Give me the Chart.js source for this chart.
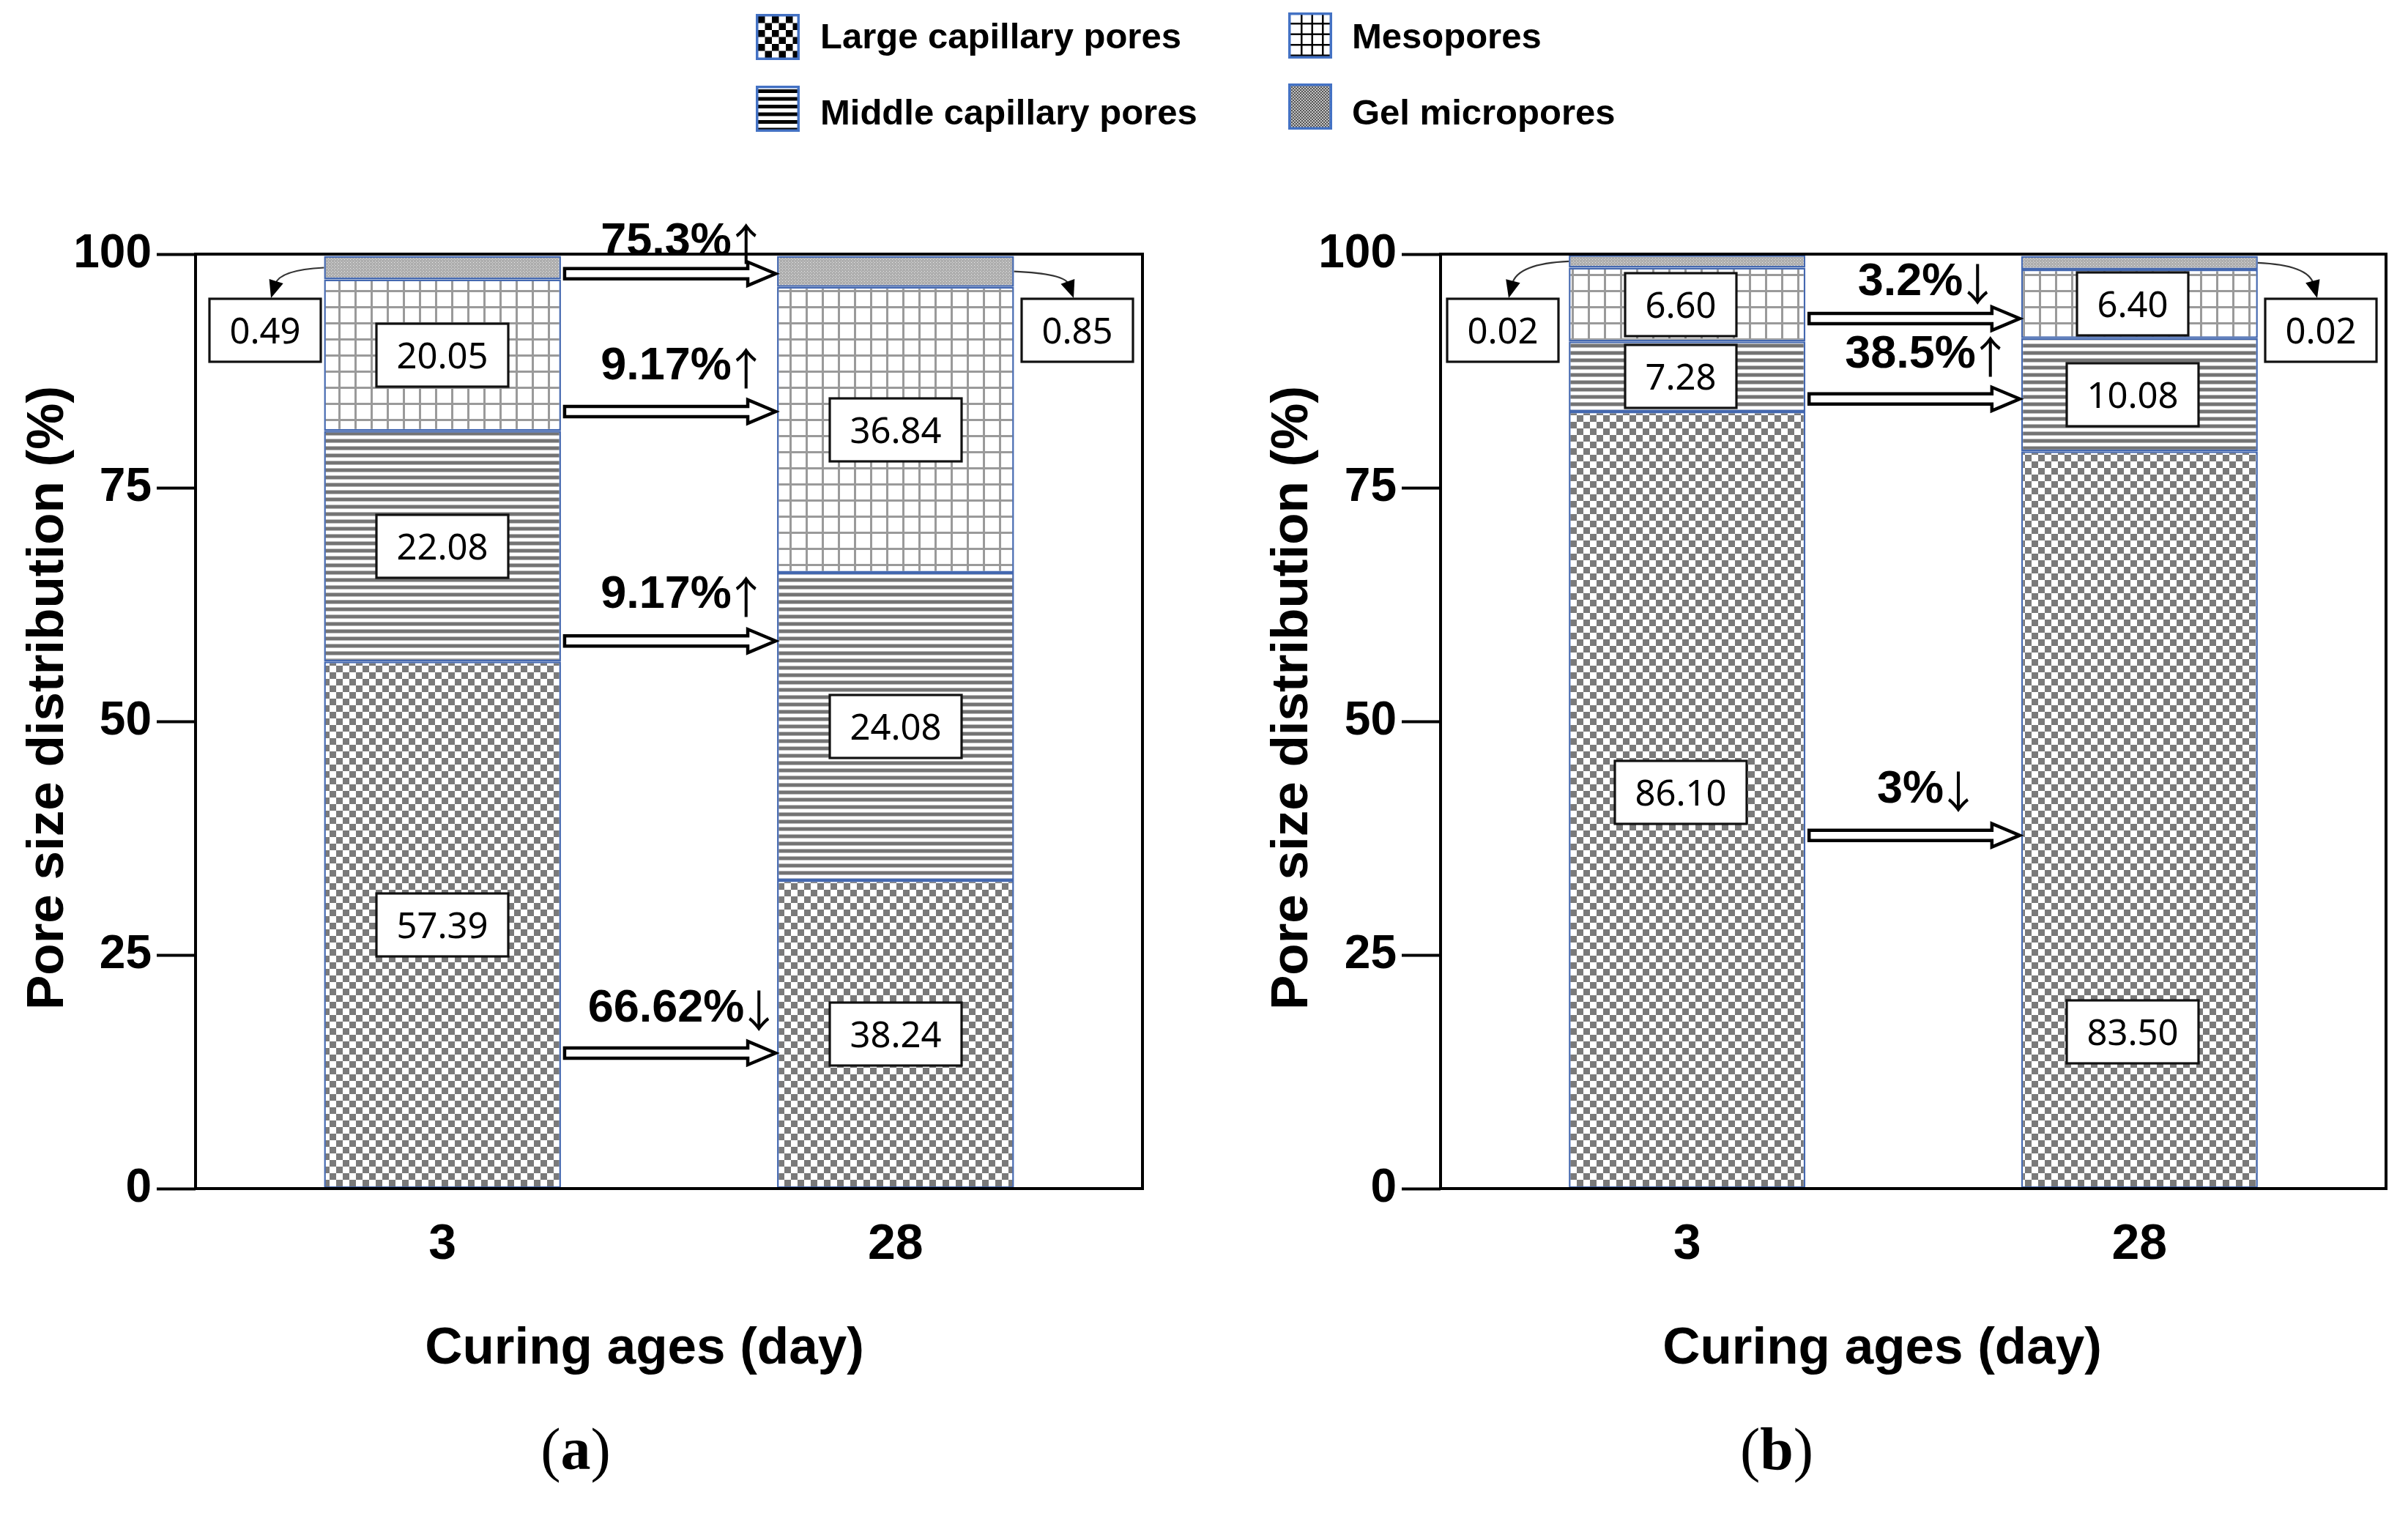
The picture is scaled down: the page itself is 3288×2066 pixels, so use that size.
<!DOCTYPE html>
<html>
<head>
<meta charset="utf-8">
<script src="https://cdn.jsdelivr.net/npm/chart.js@4.4.1/dist/chart.umd.min.js"></script>
<style>
html, body { margin: 0; padding: 0; background: #fff; width: 3288px; height: 2066px; overflow: hidden; position: relative; }
#wa { position: absolute; left: 0; top: 0; width: 1640px; height: 2066px; }
#wb { position: absolute; left: 1640px; top: 0; width: 1648px; height: 2066px; }
.sw { position: absolute; width: 60px; height: 63px; }
.lt { position: absolute; font: bold 49px "Liberation Sans", Arial, sans-serif; line-height: 49px; white-space: nowrap; color: #000; }
</style>
</head>
<body>
<div id="wa"><canvas id="ca"></canvas></div>
<div id="wb"><canvas id="cb"></canvas></div>

<canvas class="sw" id="sw0" width="60" height="63" style="left:1032px;top:19px"></canvas>
<div class="lt" id="lt0" style="left:1120px;top:25px"></div>
<canvas class="sw" id="sw2" width="60" height="63" style="left:1759px;top:17px"></canvas>
<div class="lt" id="lt2" style="left:1846px;top:25px"></div>
<canvas class="sw" id="sw1" width="60" height="63" style="left:1032px;top:117px"></canvas>
<div class="lt" id="lt1" style="left:1120px;top:129px"></div>
<canvas class="sw" id="sw3" width="60" height="63" style="left:1759px;top:114px"></canvas>
<div class="lt" id="lt3" style="left:1846px;top:129px"></div>

<script>
// ---------------- data ----------------
const categories = ['3', '28'];
const seriesNames = ['Large capillary pores', 'Middle capillary pores', 'Mesopores', 'Gel micropores'];
const yTicks = [0, 25, 50, 75, 100];

// panel (a): segment heights as drawn (% of axis), bottom to top
const aLarge  = [56.4, 33.0];
const aMiddle = [24.7, 32.9];
const aMeso   = [16.2, 30.6];
const aGel    = [2.5, 3.3];
// panel (a): printed values
const aLargeText  = ['57.39', '38.24'];
const aMiddleText = ['22.08', '24.08'];
const aMesoText   = ['20.05', '36.84'];
const aGelText    = ['0.49', '0.85'];
const aChange     = ['75.3%', '9.17%', '9.17%', '66.62%'];
const aChangeDir  = ['↑', '↑', '↑', '↓'];

// panel (b): segment heights as drawn (% of axis)
const bLarge  = [83.15, 78.9];
const bMiddle = [7.5, 12.1];
const bMeso   = [7.9, 7.35];
const bGel    = [1.35, 1.45];
// panel (b): printed values
const bLargeText  = ['86.10', '83.50'];
const bMiddleText = ['7.28', '10.08'];
const bMesoText   = ['6.60', '6.40'];
const bGelText    = ['0.02', '0.02'];
const bChange     = ['3.2%', '38.5%', '3%'];
const bChangeDir  = ['↓', '↑', '↓'];

// ---------------- styles / layout ----------------
const FONT = '"Liberation Sans", Arial, sans-serif';
const NUMFONT = '"Noto Sans", "Open Sans", sans-serif';
const ARROWFONT = '"Noto Sans CJK KR", "Noto Sans CJK SC", "DejaVu Sans", sans-serif';
const SERIF = '"Liberation Serif", "Times New Roman", serif';
const BAR_BORDER = '#4468b0';

const layoutA = {
  canvasId: 'ca', yAxisWidth: 267, padRight: 80,
  changeLevels: [97.9, 83.15, 58.6, 14.5],
  changeTextGap: [26, 44, 45, 43],
  anchor: [[0.5, 0.5], [0.5, 0.5], [0.5, 0.5]],
  labelDx: 0, gelBoxLevel: 91.85, gelGap: [4, 10],
  yTitleX: 66, xTitleX: 880, letterX: 786, letter: 'a'
};
const layoutB = {
  canvasId: 'cb', yAxisWidth: 327, padRight: 30,
  changeLevels: [93.1, 84.5, 37.8],
  changeTextGap: [32, 43, 45],
  anchor: [[0.51, 0.212], [0.5, 0.5], [0.5, 0.5]],
  labelDx: -9, gelBoxLevel: 91.85, gelGap: [14, 10],
  yTitleX: 125, xTitleX: 930, letterX: 786, letter: 'b'
};

// ---------------- patterns ----------------
function makePatterns(ctx) {
  function tile(w, h, draw) {
    const c = document.createElement('canvas');
    c.width = w; c.height = h;
    draw(c.getContext('2d'));
    return ctx.createPattern(c, 'repeat');
  }
  return [
    tile(18, 18, g => { g.fillStyle = '#fff'; g.fillRect(0, 0, 18, 18); g.fillStyle = '#7a7a7a'; g.fillRect(0, 0, 9, 9); g.fillRect(9, 9, 9, 9); }),
    tile(8, 10, g => { g.fillStyle = '#fff'; g.fillRect(0, 0, 8, 10); g.fillStyle = '#747474'; g.fillRect(0, 0, 8, 4); g.fillStyle = '#b8b8b8'; g.fillRect(0, 4, 8, 1); g.fillRect(0, 9, 8, 1); }),
    tile(22, 22, g => { g.fillStyle = '#fff'; g.fillRect(0, 0, 22, 22); g.fillStyle = '#9a9a9a'; g.fillRect(0, 0, 22, 3); g.fillRect(0, 0, 3, 22); }),
    tile(4, 4, g => { g.fillStyle = '#a3a3a3'; g.fillRect(0, 0, 4, 4); g.fillStyle = '#fff'; g.fillRect(0, 0, 1, 1); g.fillRect(2, 2, 1, 1); g.fillStyle = '#d0d0d0'; g.fillRect(2, 0, 1, 1); g.fillRect(0, 2, 1, 1); })
  ];
}

// ---------------- legend (HTML) ----------------
function drawSwatch(id, kind) {
  const c = document.getElementById(id), g = c.getContext('2d');
  const W = c.width, H = c.height;
  g.fillStyle = '#fff'; g.fillRect(0, 0, W, H);
  g.save(); g.beginPath(); g.rect(3, 3, W - 6, H - 6); g.clip();
  if (kind === 0) {
    g.fillStyle = '#000';
    for (let r = 0; r < 7; r++) for (let k = 0; k < 7; k++) if ((r + k) % 2 === 0) g.fillRect(3 + k * 9.5, 3 + r * 9.5, 9.5, 9.5);
  } else if (kind === 1) {
    g.fillStyle = '#000';
    for (let y = 5; y < H; y += 10.5) g.fillRect(0, y, W, 5);
  } else if (kind === 2) {
    g.fillStyle = '#000';
    for (let x = 17; x < W; x += 14.5) g.fillRect(x, 0, 2.5, H);
    for (let y = 14; y < H; y += 14.5) g.fillRect(0, y, W, 2.5);
  } else {
    for (let y = 0; y < H; y += 2) for (let x = 0; x < W; x += 2) {
      g.fillStyle = ((x + y) / 2) % 2 === 0 ? '#555' : '#c4c4c4';
      g.fillRect(x, y, 2, 2);
    }
  }
  g.restore();
  g.strokeStyle = '#4472c4'; g.lineWidth = 3.5; g.strokeRect(1.75, 1.75, W - 3.5, H - 3.5);
}
seriesNames.forEach((n, i) => { document.getElementById('lt' + i).textContent = n; drawSwatch('sw' + i, i); });

// ---------------- drawing helpers ----------------
function valueBox(ctx, cx, cy, text) {
  ctx.font = `49px ${NUMFONT}`;
  const w = Math.round(ctx.measureText(text).width + 55), h = 86;
  const x = Math.round(cx - w / 2), y = Math.round(cy - h / 2);
  ctx.fillStyle = '#fff'; ctx.fillRect(x, y, w, h);
  ctx.lineWidth = 3.2; ctx.strokeStyle = '#111'; ctx.strokeRect(x, y, w, h);
  ctx.fillStyle = '#000'; ctx.textAlign = 'center'; ctx.textBaseline = 'alphabetic';
  ctx.fillText(text, x + w / 2, y + h / 2 + 17.5);
  return { x, y, w, h };
}
function boxWidth(ctx, text) {
  ctx.font = `49px ${NUMFONT}`;
  return Math.round(ctx.measureText(text).width + 55);
}
function curvedArrow(ctx, sx, sy, qx, qy, ex, ey) {
  ctx.strokeStyle = '#333'; ctx.lineWidth = 2.2;
  const ang = Math.atan2(ey - qy, ex - qx);
  const hl = 24, hw = 10;
  const bx = ex - Math.cos(ang) * hl, by = ey - Math.sin(ang) * hl;
  ctx.beginPath(); ctx.moveTo(sx, sy); ctx.quadraticCurveTo(qx, qy, bx + Math.cos(ang) * 4, by + Math.sin(ang) * 4); ctx.stroke();
  ctx.fillStyle = '#000';
  ctx.beginPath();
  ctx.moveTo(ex, ey);
  ctx.lineTo(bx + Math.sin(ang) * hw, by - Math.cos(ang) * hw);
  ctx.lineTo(bx - Math.sin(ang) * hw, by + Math.cos(ang) * hw);
  ctx.closePath(); ctx.fill();
}
function blockArrow(ctx, x0, x1, y) {
  const sh = 7, hh = 16, hl = 40;
  ctx.beginPath();
  ctx.moveTo(x0, y - sh); ctx.lineTo(x1 - hl, y - sh); ctx.lineTo(x1 - hl, y - hh);
  ctx.lineTo(x1 - 2, y); ctx.lineTo(x1 - hl, y + hh); ctx.lineTo(x1 - hl, y + sh);
  ctx.lineTo(x0, y + sh); ctx.closePath();
  ctx.fillStyle = '#fff'; ctx.fill();
  ctx.lineWidth = 4.5; ctx.strokeStyle = '#000'; ctx.lineJoin = 'miter'; ctx.stroke();
}
function drawLetter(ctx, ch, cx, cy) {
  const reg = `82px ${SERIF}`, bold = `bold 82px ${SERIF}`;
  ctx.font = reg; const wp = ctx.measureText('(').width, wq = ctx.measureText(')').width;
  ctx.font = bold; const wa = ctx.measureText(ch).width;
  let x = cx - (wp + wa + wq) / 2;
  ctx.fillStyle = '#000'; ctx.textAlign = 'left'; ctx.textBaseline = 'middle';
  ctx.font = reg; ctx.fillText('(', x, cy); x += wp;
  ctx.font = bold; ctx.fillText(ch, x, cy); x += wa;
  ctx.font = reg; ctx.fillText(')', x, cy);
}

function annotationPlugin(L, T) {
  return {
    id: 'poreAnnotations',
    afterDatasetsDraw(chart) {
      const ctx = chart.ctx, ys = chart.scales.y;
      const bar = (s, c) => chart.getDatasetMeta(s).data[c];
      ctx.save();
      const segTexts = [T.large, T.middle, T.meso];
      for (let s = 0; s < 3; s++) for (let c = 0; c < 2; c++) {
        const el = bar(s, c);
        valueBox(ctx, el.x + L.labelDx, el.base + (el.y - el.base) * L.anchor[s][c], segTexts[s][c]);
      }
      const by = ys.getPixelForValue(L.gelBoxLevel);
      for (let c = 0; c < 2; c++) {
        const el = bar(3, c);
        const w = boxWidth(ctx, T.gel[c]);
        const left = el.x - el.width / 2, right = el.x + el.width / 2;
        const cx = c === 0 ? left - L.gelGap[0] - w / 2 : right + L.gelGap[1] + w / 2;
        const box = valueBox(ctx, cx, by, T.gel[c]);
        const sy = (el.y + el.base) / 2, sx = c === 0 ? left : right;
        const ex = box.x + box.w / 2 + (c === 0 ? 8 : -5), ey = box.y - 1;
        curvedArrow(ctx, sx, sy, ex + (c === 0 ? 12 : -12), sy + 3, ex, ey);
      }
      const b0 = bar(0, 0), b1 = bar(0, 1);
      const r0 = b0.x + b0.width / 2, l1 = b1.x - b1.width / 2;
      const mid = (r0 + l1) / 2 + 10;
      T.change.forEach((txt, k) => {
        const yk = ys.getPixelForValue(L.changeLevels[k]);
        blockArrow(ctx, r0 + 5, l1, yk);
        ctx.font = `bold 63px ${FONT}`; const w1 = ctx.measureText(txt).width;
        const start = mid - (w1 + 28) / 2, base = yk - L.changeTextGap[k];
        ctx.fillStyle = '#000'; ctx.textAlign = 'left'; ctx.textBaseline = 'alphabetic';
        ctx.fillText(txt, start, base);
        ctx.font = `60px ${ARROWFONT}`; ctx.textAlign = 'center';
        ctx.fillText(T.dir[k], start + w1 + 20, base + 8);
      });
      ctx.restore();
    },
    afterDraw(chart) {
      const ctx = chart.ctx, a = chart.chartArea;
      ctx.save();
      ctx.lineWidth = 4; ctx.strokeStyle = '#000';
      ctx.strokeRect(a.left, a.top, a.right - a.left, a.bottom - a.top);
      ctx.fillStyle = '#000'; ctx.textAlign = 'center'; ctx.textBaseline = 'middle';
      ctx.font = `bold 71px ${FONT}`;
      ctx.save(); ctx.translate(L.yTitleX, 953); ctx.rotate(-Math.PI / 2);
      ctx.fillText('Pore size distribution (%)', 0, 0); ctx.restore();
      ctx.fillText('Curing ages (day)', L.xTitleX, a.bottom + 219);
      drawLetter(ctx, L.letter, L.letterX, 1985);
      ctx.restore();
    }
  };
}

function buildChart(L, series, T) {
  const canvas = document.getElementById(L.canvasId);
  const fills = makePatterns(canvas.getContext('2d'));
  const datasets = series.map((vals, s) => ({
    label: seriesNames[s],
    data: vals.map((v, i) => ({ x: i, y: v })),
    backgroundColor: fills[s],
    borderColor: BAR_BORDER, borderWidth: 2.5, borderSkipped: false,
    categoryPercentage: 0.523, barPercentage: 1, stack: 'pores'
  }));
  return new Chart(canvas, {
    type: 'bar',
    data: { datasets },
    options: {
      responsive: true, maintainAspectRatio: false, devicePixelRatio: 1, animation: false, events: [],
      layout: { padding: { left: 0, right: L.padRight, top: 347, bottom: 293 } },
      plugins: { legend: { display: false }, tooltip: { enabled: false } },
      scales: {
        x: {
          type: 'linear', min: -0.545, max: 1.545, stacked: true, offset: false,
          afterBuildTicks: ax => { ax.ticks = categories.map((c, i) => ({ value: i })); },
          ticks: { callback: v => categories[v] ?? '', autoSkip: false, maxRotation: 0, padding: 36, color: '#000',
                   font: { family: FONT, size: 68, weight: 'bold' } },
          grid: { offset: false, drawOnChartArea: false, drawTicks: false },
          border: { display: false },
          afterFit: s => { s.height = 150; }
        },
        y: {
          min: 0, max: 100, stacked: true,
          afterBuildTicks: ax => { ax.ticks = yTicks.map(v => ({ value: v })); },
          ticks: { padding: 7, color: '#000', font: { family: FONT, size: 64, weight: 'bold' } },
          grid: { drawOnChartArea: false, drawTicks: true, tickLength: 53, tickWidth: 4, tickColor: '#000' },
          border: { display: false },
          afterFit: s => { s.width = L.yAxisWidth; }
        }
      }
    },
    plugins: [annotationPlugin(L, T)]
  });
}

buildChart(layoutA, [aLarge, aMiddle, aMeso, aGel],
  { large: aLargeText, middle: aMiddleText, meso: aMesoText, gel: aGelText, change: aChange, dir: aChangeDir });
buildChart(layoutB, [bLarge, bMiddle, bMeso, bGel],
  { large: bLargeText, middle: bMiddleText, meso: bMesoText, gel: bGelText, change: bChange, dir: bChangeDir });
</script>
</body>
</html>
